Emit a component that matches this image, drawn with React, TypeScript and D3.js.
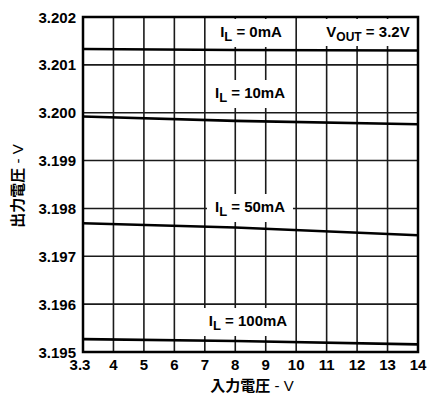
import React from "react";
import * as d3 from "d3";

// Input voltage (V) at which each curve was read
const inputVoltage = [3.3, 8, 14];
// Output voltage (V) per load current
const vout0mA = [3.20133, 3.20131, 3.2013];
const vout10mA = [3.19992, 3.19983, 3.19976];
const vout50mA = [3.19769, 3.1976, 3.19744];
const vout100mA = [3.19527, 3.19523, 3.19516];

const xTicks = [3.3, 4, 5, 6, 7, 8, 9, 10, 11, 12, 13, 14];
const yTicks = [3.195, 3.196, 3.197, 3.198, 3.199, 3.2, 3.201, 3.202];

const curveLabels = ["0mA", "10mA", "50mA", "100mA"];

const W = 429;
const H = 396;
const left = 83;
const right = 418;
const top = 17;
const bottom = 352;

const FONT = "'Liberation Sans', Arial, sans-serif";
const CJK = "'Noto Sans CJK JP', 'Noto Sans CJK SC', sans-serif";

export default function App() {
  // Evenly spaced grid: the first division (3.3 → 4) is as wide as the others
  const step = (right - left) / (xTicks.length - 1);
  const x = d3
    .scaleLinear()
    .domain([3.3, 4, 14])
    .range([left, left + step, right]);
  const y = d3.scaleLinear().domain([3.195, 3.202]).range([bottom, top]);

  const series = [vout0mA, vout10mA, vout50mA, vout100mA];
  const line = d3
    .line<number>()
    .x((_, i) => x(inputVoltage[i]))
    .y((d) => y(d));

  // label centres (pixel) and their white backing boxes
  const labelPos = [
    { cx: 251, cy: 33, w: 84 },
    { cx: 250, cy: 94, w: 84 },
    { cx: 250, cy: 208, w: 86 },
    { cx: 248, cy: 322, w: 94 },
  ];

  return (
    <svg width={W} height={H} style={{ position: "absolute", left: 0, top: 0 }}>
      <rect x={0} y={0} width={W} height={H} fill="#fff" />
      {/* grid */}
      {xTicks.map((t) => (
        <line key={"vx" + t} x1={x(t)} x2={x(t)} y1={top} y2={bottom} stroke="#1a1a1a" strokeWidth={1.6} />
      ))}
      {yTicks.map((t) => (
        <line key={"hy" + t} x1={left} x2={right} y1={y(t)} y2={y(t)} stroke="#1a1a1a" strokeWidth={1.6} />
      ))}

      {/* curves */}
      {series.map((s, i) => (
        <path key={"s" + i} d={line(s) || ""} fill="none" stroke="#000" strokeWidth={2.6} />
      ))}

      {/* curve labels */}
      {curveLabels.map((lab, i) => {
        const p = labelPos[i];
        return (
          <g key={"lab" + i}>
            <rect x={p.cx - p.w / 2} y={p.cy - 14} width={p.w} height={28} fill="#fff" />
            <text
              x={p.cx}
              y={p.cy + 4}
              textAnchor="middle"
              fontFamily={FONT}
              fontWeight="bold"
              fontSize={15}
              fill="#000"
            >
              I
              <tspan fontSize={13} dy={4}>L</tspan>
              <tspan dy={-4}>{" = " + lab}</tspan>
            </text>
          </g>
        );
      })}

      {/* output voltage note */}
      <rect x={320} y={19} width={96} height={27} fill="#fff" />
      <text x={368} y={37} textAnchor="middle" fontFamily={FONT} fontWeight="bold" fontSize={15} fill="#000">
        V
        <tspan fontSize={12} dy={4}>OUT</tspan>
        <tspan dy={-4}>{" = 3.2V"}</tspan>
      </text>

      {/* frame */}
      <rect x={left} y={top} width={right - left} height={bottom - top} fill="none" stroke="#000" strokeWidth={2.5} />

      {/* y tick labels */}
      {yTicks.map((t) => (
        <text
          key={"yl" + t}
          x={76}
          y={y(t) + 5.5}
          textAnchor="end"
          fontFamily={FONT}
          fontWeight="bold"
          fontSize={15}
          fill="#000"
        >
          {d3.format(".3f")(t)}
        </text>
      ))}

      {/* x tick labels */}
      {xTicks.map((t, i) => (
        <text
          key={"xl" + t}
          x={x(t) - (i === 0 ? 3 : 0)}
          y={370}
          textAnchor="middle"
          fontFamily={FONT}
          fontWeight="bold"
          fontSize={15}
          fill="#000"
        >
          {t}
        </text>
      ))}

      {/* axis titles */}
      <text x={252} y={391} textAnchor="middle" fontSize={15} fill="#000">
        <tspan fontFamily={CJK} fontWeight="bold">入力電圧</tspan>
        <tspan fontFamily={FONT}>{" - V"}</tspan>
      </text>
      <text
        transform="translate(23,186) rotate(-90)"
        textAnchor="middle"
        fontSize={15}
        fill="#000"
      >
        <tspan fontFamily={CJK} fontWeight="bold">出力電圧</tspan>
        <tspan fontFamily={FONT}>{" - V"}</tspan>
      </text>
    </svg>
  );
}
